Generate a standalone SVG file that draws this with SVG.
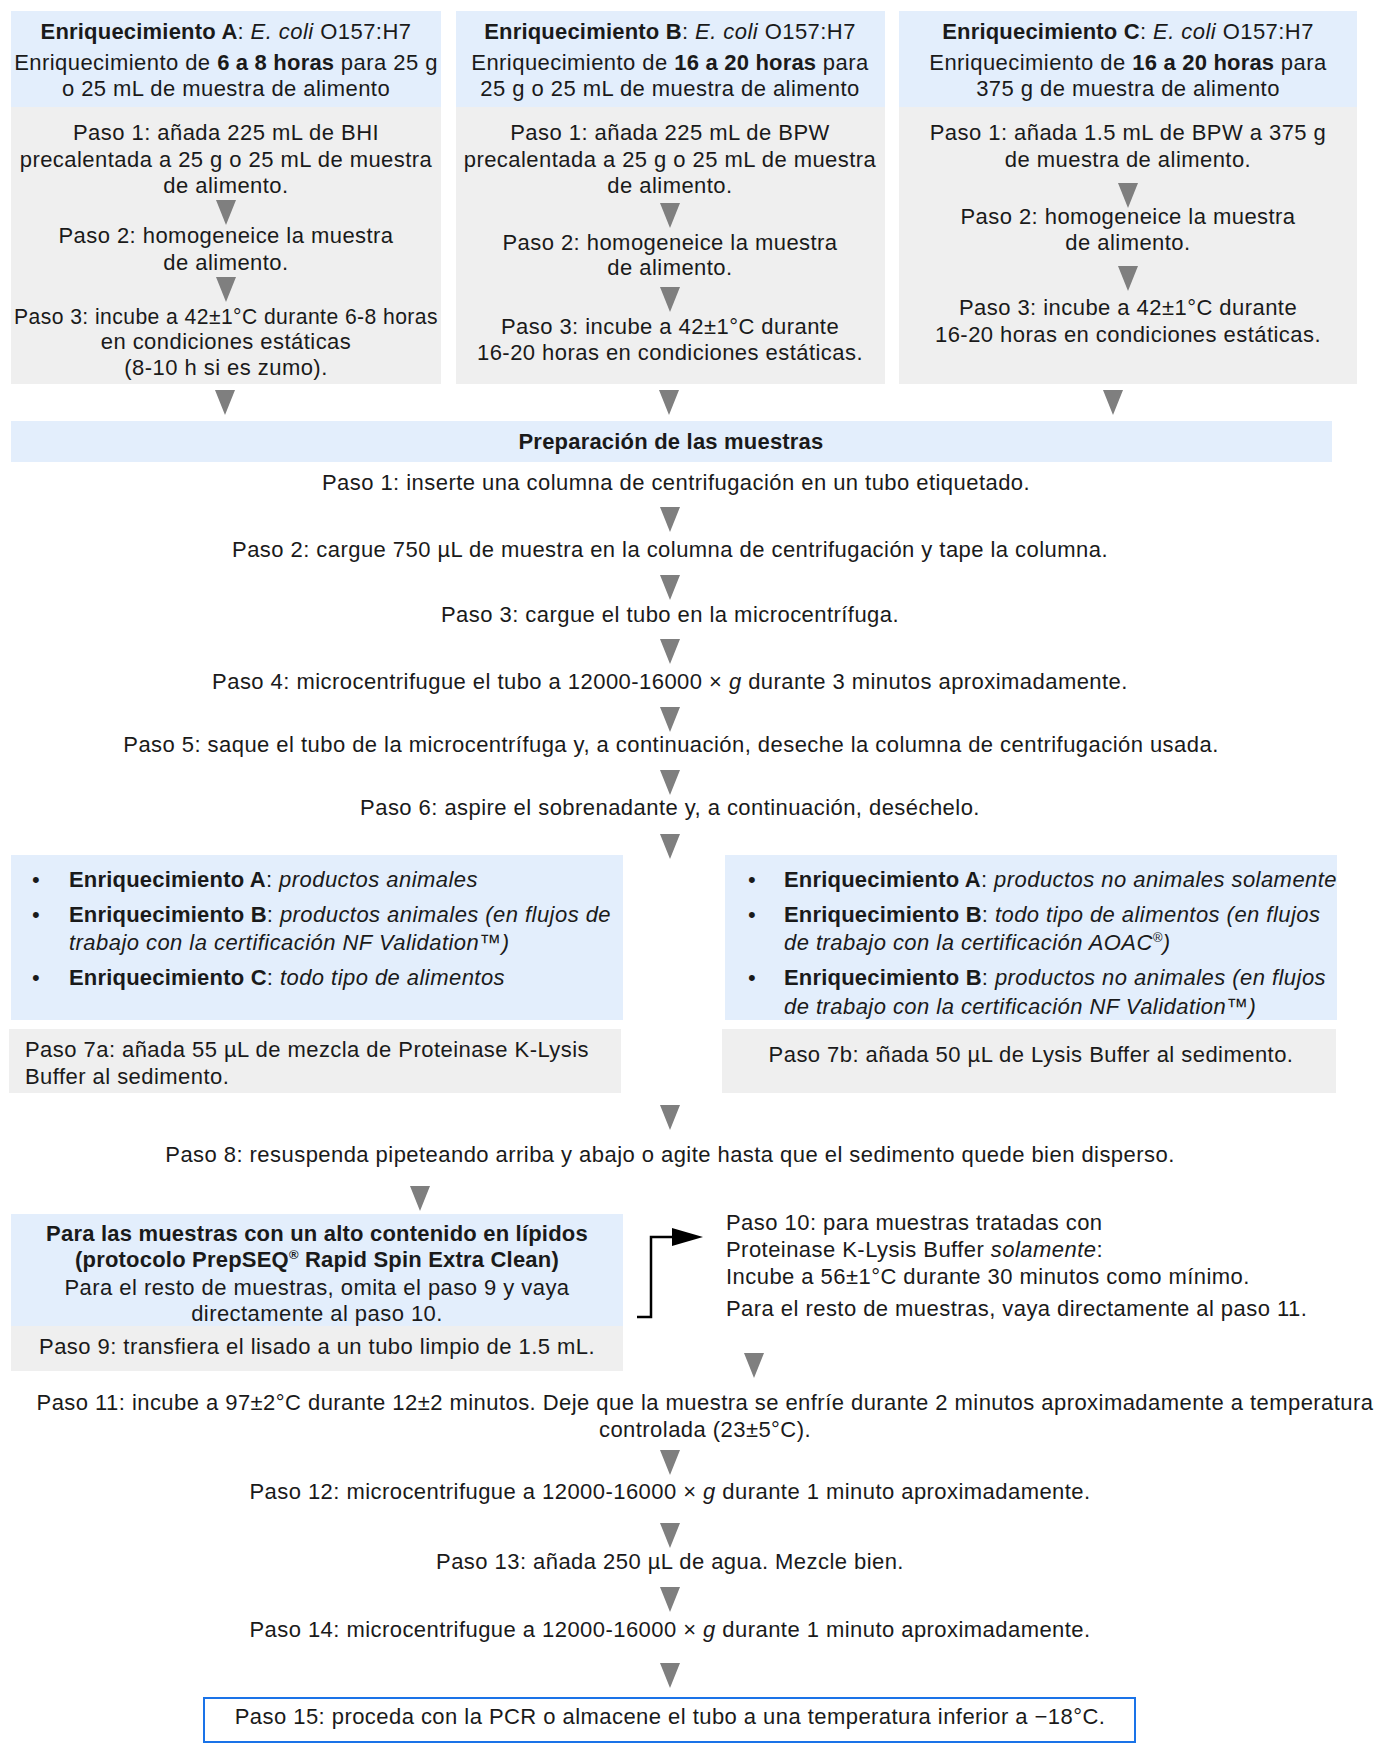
<svg xmlns="http://www.w3.org/2000/svg" width="1383" height="1744" viewBox="0 0 1383 1744">
<style>
.t{font-family:"Liberation Sans",Arial,sans-serif;font-size:22px;letter-spacing:0.45px;fill:#1a1a1a}
.c{text-anchor:middle}
.b{font-weight:bold;letter-spacing:0.2px}
.i{font-style:italic}
.blue{fill:#e3eefc}
.gray{fill:#efefef}
.arr{fill:#7f7f7f}
.sup{font-size:13px}
</style>
<defs>
<polygon id="tri" points="-10,0 10,0 0,25"/>
</defs>
<rect width="1383" height="1744" fill="#ffffff"/>

<g id="enrA">
<rect class="blue" x="11" y="11" width="430" height="96"/>
<rect class="gray" x="11" y="107" width="430" height="277"/>
<text class="t c" x="226" y="39"><tspan class="b">Enriquecimiento A</tspan>: <tspan class="i">E. coli</tspan> O157:H7</text>
<text class="t c" x="226" y="70">Enriquecimiento de <tspan class="b">6 a 8 horas</tspan> para 25 g</text>
<text class="t c" x="226" y="96">o 25 mL de muestra de alimento</text>
<text class="t c" x="226" y="140">Paso 1: añada 225 mL de BHI</text>
<text class="t c" x="226" y="167">precalentada a 25 g o 25 mL de muestra</text>
<text class="t c" x="226" y="193">de alimento.</text>
<text class="t c" x="226" y="243">Paso 2: homogeneice la muestra</text>
<text class="t c" x="226" y="270">de alimento.</text>
<text class="t c" x="226" y="324" textLength="424" lengthAdjust="spacingAndGlyphs">Paso 3: incube a 42±1°C durante 6-8 horas</text>
<text class="t c" x="226" y="349">en condiciones estáticas</text>
<text class="t c" x="226" y="375">(8-10 h si es zumo).</text>
</g>

<g id="enrB">
<rect class="blue" x="456" y="11" width="429" height="96"/>
<rect class="gray" x="456" y="107" width="429" height="277"/>
<text class="t c" x="670" y="39"><tspan class="b">Enriquecimiento B</tspan>: <tspan class="i">E. coli</tspan> O157:H7</text>
<text class="t c" x="670" y="70">Enriquecimiento de <tspan class="b">16 a 20 horas</tspan> para</text>
<text class="t c" x="670" y="96">25 g o 25 mL de muestra de alimento</text>
<text class="t c" x="670" y="140">Paso 1: añada 225 mL de BPW</text>
<text class="t c" x="670" y="167">precalentada a 25 g o 25 mL de muestra</text>
<text class="t c" x="670" y="193">de alimento.</text>
<text class="t c" x="670" y="250">Paso 2: homogeneice la muestra</text>
<text class="t c" x="670" y="275">de alimento.</text>
<text class="t c" x="670" y="334">Paso 3: incube a 42±1°C durante</text>
<text class="t c" x="670" y="360">16-20 horas en condiciones estáticas.</text>
</g>

<g id="enrC">
<rect class="blue" x="899" y="11" width="458" height="96"/>
<rect class="gray" x="899" y="107" width="458" height="277"/>
<text class="t c" x="1128" y="39"><tspan class="b">Enriquecimiento C</tspan>: <tspan class="i">E. coli</tspan> O157:H7</text>
<text class="t c" x="1128" y="70">Enriquecimiento de <tspan class="b">16 a 20 horas</tspan> para</text>
<text class="t c" x="1128" y="96">375 g de muestra de alimento</text>
<text class="t c" x="1128" y="140">Paso 1: añada 1.5 mL de BPW a 375 g</text>
<text class="t c" x="1128" y="167">de muestra de alimento.</text>
<text class="t c" x="1128" y="224">Paso 2: homogeneice la muestra</text>
<text class="t c" x="1128" y="250">de alimento.</text>
<text class="t c" x="1128" y="315">Paso 3: incube a 42±1°C durante</text>
<text class="t c" x="1128" y="342">16-20 horas en condiciones estáticas.</text>
</g>

<g id="prep">
<rect class="blue" x="11" y="421" width="1321" height="41"/>
<text class="t c b" x="671" y="449">Preparación de las muestras</text>
</g>
<g id="paso1"><text class="t c" x="676" y="490">Paso 1: inserte una columna de centrifugación en un tubo etiquetado.</text></g>
<g id="paso2"><text class="t c" x="670" y="557">Paso 2: cargue 750 µL de muestra en la columna de centrifugación y tape la columna.</text></g>
<g id="paso3"><text class="t c" x="670" y="622">Paso 3: cargue el tubo en la microcentrífuga.</text></g>
<g id="paso4"><text class="t c" x="670" y="689">Paso 4: microcentrifugue el tubo a 12000-16000 × <tspan class="i">g</tspan> durante 3 minutos aproximadamente.</text></g>
<g id="paso5"><text class="t c" x="671" y="752">Paso 5: saque el tubo de la microcentrífuga y, a continuación, deseche la columna de centrifugación usada.</text></g>
<g id="paso6"><text class="t c" x="670" y="815">Paso 6: aspire el sobrenadante y, a continuación, deséchelo.</text></g>

<g id="condA">
<rect class="blue" x="11" y="855" width="612" height="165"/>
<text class="t" x="32" y="887">•</text>
<text class="t" x="69" y="887"><tspan class="b">Enriquecimiento A</tspan>: <tspan class="i">productos animales</tspan></text>
<text class="t" x="32" y="922">•</text>
<text class="t" x="69" y="922"><tspan class="b">Enriquecimiento B</tspan>: <tspan class="i">productos animales (en flujos de</tspan></text>
<text class="t i" x="69" y="950">trabajo con la certificación NF Validation™)</text>
<text class="t" x="32" y="985">•</text>
<text class="t" x="69" y="985"><tspan class="b">Enriquecimiento C</tspan>: <tspan class="i">todo tipo de alimentos</tspan></text>
</g>

<g id="condB">
<rect class="blue" x="725" y="855" width="612" height="165"/>
<text class="t" x="748" y="887">•</text>
<text class="t" x="784" y="887"><tspan class="b">Enriquecimiento A</tspan>: <tspan class="i">productos no animales solamente</tspan></text>
<text class="t" x="748" y="922">•</text>
<text class="t" x="784" y="922"><tspan class="b">Enriquecimiento B</tspan>: <tspan class="i">todo tipo de alimentos (en flujos</tspan></text>
<text class="t i" x="784" y="950">de trabajo con la certificación AOAC<tspan class="sup" dy="-8">®</tspan><tspan dy="8">)</tspan></text>
<text class="t" x="748" y="985">•</text>
<text class="t" x="784" y="985"><tspan class="b">Enriquecimiento B</tspan>: <tspan class="i">productos no animales (en flujos</tspan></text>
<text class="t i" x="784" y="1014">de trabajo con la certificación NF Validation™)</text>
</g>

<g id="paso7a">
<rect class="gray" x="9" y="1029" width="612" height="64"/>
<text class="t" x="25" y="1057">Paso 7a: añada 55 µL de mezcla de Proteinase K-Lysis</text>
<text class="t" x="25" y="1084">Buffer al sedimento.</text>
</g>

<g id="paso7b">
<rect class="gray" x="722" y="1029" width="614" height="64"/>
<text class="t c" x="1031" y="1062">Paso 7b: añada 50 µL de Lysis Buffer al sedimento.</text>
</g>

<g id="paso8"><text class="t c" x="670" y="1162">Paso 8: resuspenda pipeteando arriba y abajo o agite hasta que el sedimento quede bien disperso.</text></g>

<g id="lipidos">
<rect class="blue" x="11" y="1214" width="612" height="112"/>
<rect class="gray" x="11" y="1326" width="612" height="45"/>
<text class="t c b" x="317" y="1241">Para las muestras con un alto contenido en lípidos</text>
<text class="t c b" x="317" y="1267">(protocolo PrepSEQ<tspan class="sup" dy="-8">®</tspan><tspan dy="8"> Rapid Spin Extra Clean)</tspan></text>
<text class="t c" x="317" y="1295">Para el resto de muestras, omita el paso 9 y vaya</text>
<text class="t c" x="317" y="1321">directamente al paso 10.</text>
<text class="t c" x="317" y="1354">Paso 9: transfiera el lisado a un tubo limpio de 1.5 mL.</text>
</g>

<g id="paso10">
<text class="t" x="726" y="1230">Paso 10: para muestras tratadas con</text>
<text class="t" x="726" y="1257">Proteinase K-Lysis Buffer <tspan class="i">solamente</tspan>:</text>
<text class="t" x="726" y="1284">Incube a 56±1°C durante 30 minutos como mínimo.</text>
<text class="t" x="726" y="1316">Para el resto de muestras, vaya directamente al paso 11.</text>
</g>

<g id="paso11">
<text class="t c" x="705" y="1410">Paso 11: incube a 97±2°C durante 12±2 minutos. Deje que la muestra se enfríe durante 2 minutos aproximadamente a temperatura</text>
<text class="t c" x="705" y="1437">controlada (23±5°C).</text>
</g>
<g id="paso12"><text class="t c" x="670" y="1499">Paso 12: microcentrifugue a 12000-16000 × <tspan class="i">g</tspan> durante 1 minuto aproximadamente.</text></g>
<g id="paso13"><text class="t c" x="670" y="1569">Paso 13: añada 250 µL de agua. Mezcle bien.</text></g>
<g id="paso14"><text class="t c" x="670" y="1637">Paso 14: microcentrifugue a 12000-16000 × <tspan class="i">g</tspan> durante 1 minuto aproximadamente.</text></g>
<g id="paso15">
<rect x="204" y="1698" width="931" height="44" fill="#ffffff" stroke="#1a73e8" stroke-width="2"/>
<text class="t c" x="670" y="1724">Paso 15: proceda con la PCR o almacene el tubo a una temperatura inferior a −18°C.</text>
</g>

<g id="connectors" class="arr">
<use href="#tri" x="226" y="200"/>
<use href="#tri" x="226" y="277"/>
<use href="#tri" x="670" y="203"/>
<use href="#tri" x="670" y="287"/>
<use href="#tri" x="1128" y="183"/>
<use href="#tri" x="1128" y="266"/>
<use href="#tri" x="225" y="390"/>
<use href="#tri" x="669" y="390"/>
<use href="#tri" x="1113" y="390"/>
<use href="#tri" x="670" y="507"/>
<use href="#tri" x="670" y="575"/>
<use href="#tri" x="670" y="639"/>
<use href="#tri" x="670" y="707"/>
<use href="#tri" x="670" y="770"/>
<use href="#tri" x="670" y="834"/>
<use href="#tri" x="670" y="1105"/>
<use href="#tri" x="420" y="1186"/>
<use href="#tri" x="754" y="1353"/>
<use href="#tri" x="670" y="1450"/>
<use href="#tri" x="670" y="1523"/>
<use href="#tri" x="670" y="1587"/>
<use href="#tri" x="670" y="1663"/>
<path d="M637,1317 H651 V1237 H674" fill="none" stroke="#000000" stroke-width="2.5"/>
<polygon points="672,1228 703,1237 672,1246" fill="#000000"/>
</g>
</svg>
